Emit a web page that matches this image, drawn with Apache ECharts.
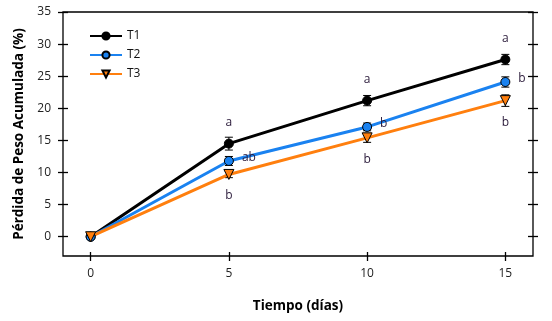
<!DOCTYPE html>
<html><head><meta charset="utf-8">
<script src="https://cdn.jsdelivr.net/npm/echarts@6/dist/echarts.min.js"></script>
<style>html,body{margin:0;padding:0;background:#fff}#c{width:552px;height:321px}</style>
</head><body><div id="c"></div>
<script>
var days = [0, 5, 10, 15];
var seriesNames = ['T1', 'T2', 'T3'];
var t1 = [0, 14.5, 21.2, 27.6];
var t2 = [0, 11.8, 17.1, 24.1];
var t3 = [0, 9.7, 15.4, 21.2];
var t1Err = [0.2, 1.0, 0.8, 0.8];
var t2Err = [0.2, 0.7, 0.6, 0.8];
var t3Err = [0.2, 0.5, 0.7, 0.9];
var t1Letters = ['', 'a', 'a', 'a'];
var t2Letters = ['', 'ab', 'b', 'b'];
var t3Letters = ['', 'b', 'b', 'b'];
var xTicks = [0, 5, 10, 15];
var yTicks = [0, 5, 10, 15, 20, 25, 30, 35];

var FONT = 'Open Sans';
var colors = ['#000000', '#1a82f0', '#ff7f0e'];

function pts(vals) { return days.map(function (d, i) { return [d, vals[i]]; }); }
function errData(vals, errs) { return days.map(function (d, i) { return [d, vals[i] - errs[i], vals[i] + errs[i]]; }); }

function errSeries(vals, errs) {
  return {
    type: 'custom', data: errData(vals, errs), z: 3, silent: true,
    renderItem: function (params, api) {
      var x = api.value(0);
      var lo = api.coord([x, api.value(1)]);
      var hi = api.coord([x, api.value(2)]);
      var w = 4;
      var st = { stroke: '#000', lineWidth: 1 };
      return { type: 'group', children: [
        { type: 'line', shape: { x1: lo[0], y1: lo[1], x2: hi[0], y2: hi[1] }, style: st },
        { type: 'line', shape: { x1: lo[0] - w, y1: lo[1], x2: lo[0] + w, y2: lo[1] }, style: st },
        { type: 'line', shape: { x1: hi[0] - w, y1: hi[1], x2: hi[0] + w, y2: hi[1] }, style: st }
      ]};
    }
  };
}

function lineSeries(name, vals, letters, color, symbol, rot, pos, dist, offset) {
  return {
    name: name, type: 'line', data: pts(vals), z: 4,
    symbol: symbol, symbolSize: symbol === 'triangle' ? 10 : 9, symbolRotate: rot,
    showAllSymbol: true,
    lineStyle: { color: color, width: 3 },
    itemStyle: { color: color, borderColor: '#000', borderWidth: 1 },
    label: {
      show: true, position: pos, distance: dist, offset: offset,
      color: '#2a1a3a', fontFamily: FONT, fontSize: 12,
      formatter: function (p) { return letters[p.dataIndex]; }
    },
    emphasis: { disabled: true }
  };
}

var tickStyle = { color: '#000', width: 1.3 };
function extraAxis(pos, inside) {
  return {
    type: 'value', position: pos,
    axisLine: { show: false, onZero: false },
    axisTick: { show: true, inside: inside, length: 5, lineStyle: tickStyle },
    axisLabel: { show: false }, splitLine: { show: false }
  };
}

var xa2 = extraAxis('bottom', true); xa2.min = -1; xa2.max = 16; xa2.axisTick.customValues = xTicks; xa2.axisTick.length = 4;
var ya2 = extraAxis('left', true); var ya3 = extraAxis('right', false); var ya4 = extraAxis('right', true);
[ya2, ya3, ya4].forEach(function (a) { a.min = -3; a.max = 35; a.axisTick.customValues = yTicks; });

var chart = echarts.init(document.getElementById('c'), null, { renderer: 'canvas' });
chart.setOption({
  animation: false,
  backgroundColor: '#fff',
  grid: { left: 63, right: 19, top: 12, bottom: 65, show: true, borderColor: '#000', borderWidth: 1.3, backgroundColor: 'transparent' },
  legend: {
    orient: 'vertical', left: 84, top: 25, itemWidth: 32, itemHeight: 9, itemGap: 7,
    data: seriesNames,
    textStyle: { fontFamily: FONT, fontSize: 12, color: '#111' }
  },
  xAxis: [{
    type: 'value', min: -1, max: 16, position: 'bottom',
    name: 'Tiempo (días)', nameLocation: 'middle', nameGap: 43,
    nameTextStyle: { fontFamily: FONT, fontSize: 13.5, fontWeight: 'bold', color: '#000' },
    axisLine: { show: false, onZero: false },
    axisTick: { show: true, inside: false, length: 5, customValues: xTicks, lineStyle: tickStyle },
    axisLabel: { customValues: xTicks, margin: 12, fontFamily: FONT, fontSize: 12, color: '#222' },
    splitLine: { show: false }
  }, xa2],
  yAxis: [{
    type: 'value', min: -3, max: 35, position: 'left',
    name: 'Pérdida de Peso Acumulada (%)', nameLocation: 'middle', nameGap: 37, nameRotate: 90,
    nameTextStyle: { fontFamily: FONT, fontSize: 13.5, fontWeight: 'bold', color: '#000' },
    axisLine: { show: false, onZero: false },
    axisTick: { show: true, inside: false, length: 5, customValues: yTicks, lineStyle: tickStyle },
    axisLabel: { customValues: yTicks, margin: 12, fontFamily: FONT, fontSize: 12, color: '#222' },
    splitLine: { show: false }
  }, ya2, ya3, ya4],
  series: [
    lineSeries('T1', t1, t1Letters, colors[0], 'circle', 0, 'top', 10, [0, 0]),
    lineSeries('T2', t2, t2Letters, colors[1], 'circle', 0, 'right', 8, [0, -3]),
    lineSeries('T3', t3, t3Letters, colors[2], 'triangle', 180, 'bottom', 10, [0, 0]),
    errSeries(t1, t1Err),
    errSeries(t2, t2Err),
    errSeries(t3, t3Err)
  ]
});
</script></body></html>
